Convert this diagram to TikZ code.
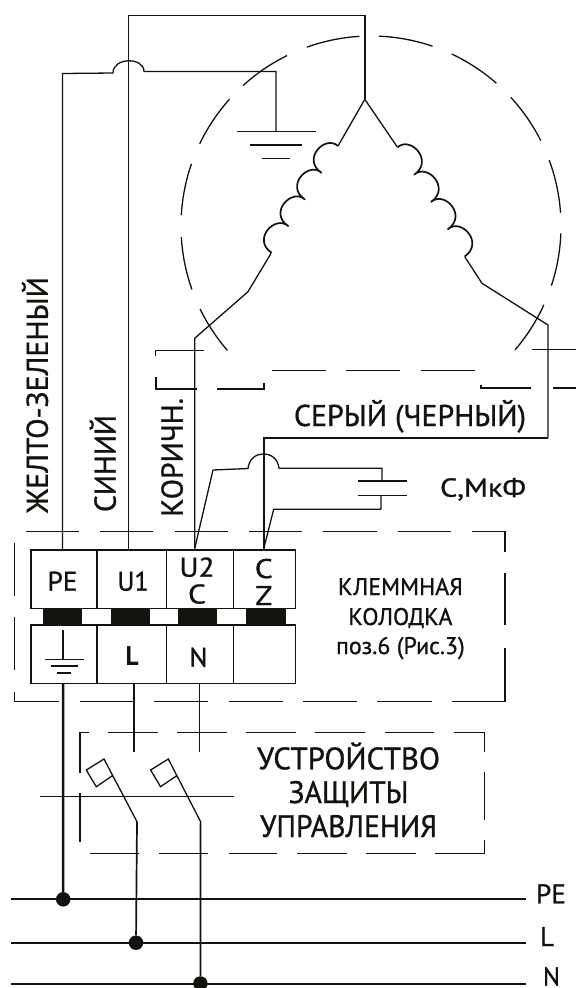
\documentclass[tikz,border=0pt]{standalone}
\usepackage{fontspec}
\usepackage{graphicx}
\setmainfont{PT Sans}
\newfontfamily\lbl{PT Sans}[FakeBold=1.0]
\newfontfamily\lblb{PT Sans Bold}
\definecolor{ink}{HTML}{14120E}
\newcommand{\wtext}[3]{\resizebox{#1pt}{\height}{\lbl\fontsize{#2}{#2}\selectfont #3}}
\tikzset{
 thinw/.style={line width=1.3pt,draw=ink},
 midw/.style={line width=1.7pt,draw=ink},
 thickw/.style={line width=2.5pt,draw=ink},
 boxdash/.style={line width=1.3pt,draw=ink},
 heavydash/.style={line width=2pt,draw=ink},
 cell/.style={draw=ink,line width=1.5pt,rectangle,inner sep=0pt,minimum height=58.3pt},
 blk/.style={fill=ink,draw=none,rectangle,inner sep=0pt,minimum height=16.7pt},
 txt/.style={anchor=base,inner sep=0pt,text=ink},
 dot/.style={circle,fill=ink,draw=none,inner sep=0pt,minimum size=14.5pt},
}
\begin{document}
\begin{tikzpicture}[x=1pt,y=-1pt]
\useasboundingbox (0,0) rectangle (576,988);
\fill[white] (0,0) rectangle (576,988);
% motor casing
\begin{scope}[shift={(371,226)}]
\foreach \a/\b in {87.6/71.1,64.9/48.7,42.6/26.7,20.3/4,-2.2/-18.3,-24.5/-40.7,93.5/109.7,116.2/132.3,138.1/154.4,160.9/176.7,183.4/199.5,205.9/220.9}
  \draw[thinw] (\a:190pt) arc[start angle=\a,end angle=\b,radius=190pt];
\end{scope}
\foreach \xa/\xb in {272/326,346.4/400.4,420.6/474.7}
  \draw[boxdash] (\xa,370.7) -- (\xb,370.7);
\draw[boxdash] (155.8,356) -- (155.8,350.7) -- (204,350.7);
\draw[heavydash] (155.8,377.3) -- (155.8,389.3) -- (196.5,389.3);
\draw[heavydash] (216.8,389.3) -- (263.8,389.3) -- (263.8,383.3);
\draw[heavydash] (481,385) -- (481,388) -- (531,388);
\draw[heavydash] (553,388) -- (576,388);
\draw[boxdash] (532,349.3) -- (576,349.3);
% windings
\coordinate (star) at (364.8,99.3);
\coordinate (lw) at (338,146);
\coordinate (rw) at (397.5,147.3);
\coordinate (le) at (271.1,253.3);
\coordinate (re) at (464.7,256.7);
\draw[thinw] (star) -- (lw);
\draw[thinw] (star) -- (rw);
\draw[midw,line join=round] (lw)
 \foreach \i in {1,...,4}{ .. controls +(-12.9,-11.7) and +(-20.1,-13.4) .. ++(-16.6,26.7)};
\draw[midw,line join=round] (rw)
 \foreach \i in {1,...,4}{ .. controls +(12.9,-11.7) and +(19.9,-14) .. ++(16.8,27.3)};
% terminal block
\node[cell,minimum width=65.8pt] (tPE) at (64.1,579.2) {};
\node[cell,minimum width=69.4pt] (tU1) at (131.7,579.2) {};
\node[cell,minimum width=66.9pt] (tU2) at (199.85,579.2) {};
\node[cell,minimum width=62.4pt] (tCZ) at (264.5,579.2) {};
\node[cell,minimum width=65.8pt] (bE) at (64.1,654.2) {};
\node[cell,minimum width=69.4pt] (bL) at (131.7,654.2) {};
\node[cell,minimum width=66.9pt] (bN) at (199.85,654.2) {};
\node[cell,minimum width=62.4pt] (bX) at (264.5,654.2) {};
\foreach \n/\c/\w in {k1/62.85/38.9,k2/130.8/39,k3/197.5/39,k4/265.9/39.8}
  \node[blk,minimum width=\w pt] (\n) at (\c,616.65) {};
% terminal wires
\coordinate (pePoint) at (62.5,550);
\coordinate (u1Point) at (128.6,550);
\coordinate (u2Point) at (194.7,548.5);
\coordinate (czPoint) at (263.8,548.5);
% top wire U1 -> star
\draw[midw,line join=miter] (u1Point) -- (128.6,15.5) -- (364.8,15.5) -- (star);
% PE wire with bridge
\coordinate (gnd) at (276,131.5);
\draw[thinw] (pePoint) -- (62.5,73.5) -- (113,73) .. controls (113,57) and (144,57) .. (144,71.5) -- (276,71.5) -- (gnd);
\draw[thinw] (237,131.5) -- (316,131.5);
\draw[line width=2.8pt,draw=ink] (250,145) -- (302,145);
\draw[thinw] (261.5,158.5) -- (290,158.5);
% winding ends
\draw[thinw] (le) -- (248,291.7) -- (194.7,338.3) -- (u2Point);
\draw[thinw] (re) -- (482,283.3) -- (548,325) -- (548,437.7);
\draw[midw] (548,437.7) -- (263.8,437.7);
\draw[thickw] (263.8,436.7) -- (czPoint);
% capacitor
\coordinate (capT) at (382,481);
\coordinate (capB) at (381,495.7);
\draw[thinw,line join=round] (u2Point) -- (213,470) -- (248,468.5) .. controls (250,449) and (277,449) .. (279,468.3) -- (382,468.3) -- (capT);
\draw[thinw,line join=round] (capB) -- (381,509.3) -- (273.7,509.3) -- (czPoint);
\draw[thinw] (358,481) -- (407,481) (358,495.7) -- (407,495.7);
% klemma box
\foreach \xa/\xb in {25.7/79,100/153,174.5/228,249/302,323/376.6,397.5/451}
  \draw[boxdash] (\xa,531.7) -- (\xb,531.7);
\draw[boxdash] (472,531.7) -- (505,531.7) -- (505,551.7);
\draw[boxdash] (505,573.3) -- (505,625);
\draw[boxdash] (505,647.7) -- (505,701.7) -- (452,701.7);
\foreach \xa/\xb in {431.7/377,357/303,283/228.5,208/154,134/80}
  \draw[boxdash] (\xa,701.7) -- (\xb,701.7);
\draw[boxdash] (59,701.7) -- (14.7,701.7) -- (14.7,691.7);
\draw[boxdash] (14.7,616.7) -- (14.7,670) (14.7,542.7) -- (14.7,596);
% earth in terminal
\draw[thinw] (63,630) -- (63,659.3);
\draw[thinw] (44.8,659.3) -- (83.8,659.3);
\draw[midw] (50.5,666) -- (77.5,666);
\draw[midw] (57,673.3) -- (70.5,673.3);
% control device box
\foreach \xa/\xb in {107.6/158,177/227,246/296,315/365,384.6/434}
  \draw[boxdash] (\xa,732.7) -- (\xb,732.7);
\draw[boxdash] (89,732.7) -- (80,732.7) -- (80,773);
\draw[boxdash] (80,793.3) -- (80,842.3);
\draw[boxdash] (454,732.7) -- (484.2,732.7) -- (484.2,751.7);
\draw[boxdash] (484.2,771.7) -- (484.2,820);
\draw[boxdash] (484.2,840) -- (484.2,853.3) -- (434.6,853.3);
\foreach \xa/\xb in {416/365.5,347/296.5,277.4/228.5,208/159,139/90}
  \draw[boxdash] (\xa,853.3) -- (\xb,853.3);
\draw[boxdash] (39.7,796.7) -- (234,796.7);
% bus
\coordinate (busPE) at (63.2,899.3);
\coordinate (busL) at (136,942.7);
\coordinate (busN) at (200.4,983.5);
\foreach \y in {899.3,942.7,984}
  \draw[midw] (11,\y) -- (526,\y);
\node[dot] (dPE) at (busPE) {};
\node[dot] (dL) at (busL) {};
\node[dot] (dN) at (busN) {};
% supply wires
\draw[thickw] (63,683.3) -- (dPE);
\draw[thinw] (134,683.3) -- (134,751.7);
\draw[thinw] (199.5,683.3) -- (199.5,751.7);
% switches
\draw[thinw,line join=miter] (137,821.7) -- (104,759) -- (86.3,770) -- (96.3,786.7) -- (112,776);
\draw[thinw,line join=miter] (200.6,821.7) -- (168.3,759) -- (150.6,770) -- (160.5,786.7) -- (176.3,776);
\draw[midw] (dL) -- (137,821.7);
\draw[midw] (dN) -- (200.6,821.7);
% labels
\node[txt,rotate=90] (lbA) at (47.8,395) {\wtext{236}{30}{ЖЕЛТО-ЗЕЛЕНЫЙ}};
\node[txt,rotate=90] (lbB) at (115.7,463.5) {\wtext{97}{30}{СИНИЙ}};
\node[txt,rotate=90] (lbC) at (182.6,457.4) {\wtext{118.7}{30}{КОРИЧН.}};
\node[txt] (lbD) at (410,426) {\wtext{232}{30}{СЕРЫЙ (ЧЕРНЫЙ)}};
\node[txt] (lbE) at (483,496.7) {\wtext{86}{26}{С,МкФ}};
\node[txt] (tx1) at (62.5,590.7) {\wtext{30}{27}{PE}};
\node[txt] (tx2) at (133,590.7) {\wtext{31}{27}{U1}};
\node[txt] (tx3) at (197,576.7) {\wtext{35}{27}{U2}};
\node[txt] (tx4) at (197,603.5) {\wtext{18}{27}{C}};
\node[txt] (tx5) at (263.8,578) {\wtext{18}{27}{C}};
\node[txt] (tx6) at (263.8,605) {\wtext{17}{27}{Z}};
\node[txt] (tx7) at (132,665) {\resizebox{13pt}{\height}{\lblb\fontsize{27}{27}\selectfont L}};
\node[txt] (tx8) at (198.4,666.7) {\wtext{18}{27}{N}};
\node[txt] (ka) at (400.4,595) {\wtext{125}{24}{КЛЕММНАЯ}};
\node[txt] (kb) at (400.4,625) {\wtext{104}{24}{КОЛОДКА}};
\node[txt] (kc) at (400.4,654) {\wtext{128.6}{24}{поз.6 (Рис.3)}};
\node[txt] (ua) at (348.5,769.3) {\wtext{183}{31}{УСТРОЙСТВО}};
\node[txt] (ub) at (348.5,803) {\wtext{120}{31}{ЗАЩИТЫ}};
\node[txt] (uc) at (348.5,837) {\wtext{177}{31}{УПРАВЛЕНИЯ}};
\node[txt] (pa) at (551,903.3) {\wtext{30}{27}{PE}};
\node[txt] (pb) at (547,946) {\wtext{14}{27}{L}};
\node[txt] (pc) at (551.5,985.5) {\wtext{17}{26}{N}};
\end{tikzpicture}
\end{document}
